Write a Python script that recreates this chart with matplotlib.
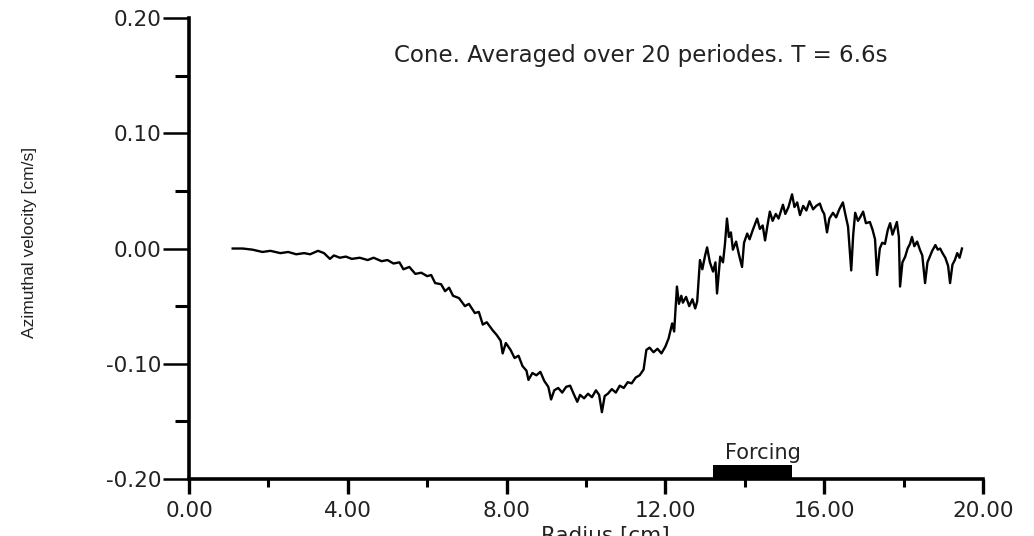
import numpy as np
import matplotlib
matplotlib.use("Agg")
import matplotlib.pyplot as plt
from matplotlib.patches import Rectangle
from matplotlib.ticker import MultipleLocator, FormatStrFormatter

plt.rcParams['axes.unicode_minus'] = False
plt.rcParams['font.family'] = ['DejaVu Sans']

# azimuthal velocity profile, cone, averaged over 20 periods
radius = [1.10, 1.35, 1.60, 1.85, 2.05, 2.30, 2.50, 2.70, 2.90, 3.05,
          3.25, 3.40, 3.55, 3.65, 3.80, 3.95, 4.10, 4.30, 4.50, 4.65,
          4.85, 5.00, 5.15, 5.30, 5.40, 5.55, 5.70, 5.85, 6.00, 6.10,
          6.20, 6.35, 6.45, 6.55, 6.65, 6.80, 6.95, 7.05, 7.20, 7.30,
          7.40, 7.50, 7.65, 7.75, 7.85, 7.90, 7.98, 8.10, 8.20, 8.30,
          8.40, 8.50, 8.55, 8.65, 8.75, 8.85, 8.95, 9.05, 9.12, 9.20,
          9.30, 9.40, 9.50, 9.60, 9.70, 9.78, 9.85, 9.95, 10.05, 10.15,
          10.25, 10.33, 10.40, 10.47, 10.55, 10.65, 10.75, 10.85, 10.95, 11.05,
          11.15, 11.25, 11.35, 11.45, 11.52, 11.60, 11.70, 11.80, 11.90, 12.00,
          12.08, 12.17, 12.22, 12.29, 12.34, 12.40, 12.44, 12.52, 12.60, 12.68,
          12.75, 12.80, 12.87, 12.93, 13.00, 13.05, 13.12, 13.20, 13.26, 13.30,
          13.38, 13.45, 13.50, 13.55, 13.60, 13.65, 13.70, 13.78, 13.85, 13.93,
          13.98, 14.06, 14.12, 14.20, 14.31, 14.38, 14.45, 14.51, 14.57, 14.63,
          14.70, 14.78, 14.85, 14.96, 15.02, 15.10, 15.19, 15.25, 15.32, 15.39,
          15.47, 15.55, 15.63, 15.72, 15.80, 15.89, 15.95, 16.00, 16.07, 16.13,
          16.22, 16.30, 16.38, 16.47, 16.53, 16.60, 16.68, 16.73, 16.78, 16.85,
          16.92, 16.98, 17.05, 17.15, 17.22, 17.28, 17.33, 17.40, 17.46, 17.53,
          17.60, 17.66, 17.72, 17.78, 17.83, 17.88, 17.91, 17.97, 18.04, 18.10,
          18.16, 18.21, 18.27, 18.34, 18.41, 18.47, 18.54, 18.60, 18.66, 18.72,
          18.80, 18.86, 18.92, 18.98, 19.05, 19.12, 19.17, 19.23, 19.29, 19.35,
          19.41, 19.47]
velocity = [0.000, 0.000, -0.001, -0.003, -0.002, -0.004, -0.003, -0.005, -0.004, -0.005,
            -0.002, -0.004, -0.009, -0.006, -0.008, -0.007, -0.009, -0.008, -0.010, -0.008,
            -0.011, -0.010, -0.013, -0.012, -0.018, -0.016, -0.022, -0.021, -0.024, -0.023,
            -0.030, -0.031, -0.037, -0.034, -0.041, -0.043, -0.050, -0.048, -0.056, -0.055,
            -0.066, -0.064, -0.071, -0.075, -0.080, -0.091, -0.082, -0.088, -0.095, -0.093,
            -0.102, -0.106, -0.114, -0.108, -0.110, -0.107, -0.115, -0.120, -0.131, -0.123,
            -0.121, -0.125, -0.120, -0.119, -0.127, -0.133, -0.127, -0.130, -0.126, -0.129,
            -0.123, -0.127, -0.142, -0.128, -0.126, -0.122, -0.125, -0.119, -0.121, -0.116,
            -0.117, -0.112, -0.110, -0.105, -0.088, -0.086, -0.090, -0.087, -0.091, -0.085,
            -0.078, -0.065, -0.072, -0.033, -0.048, -0.041, -0.047, -0.042, -0.050, -0.044,
            -0.052, -0.046, -0.010, -0.018, -0.006, 0.001, -0.012, -0.020, -0.012, -0.039,
            -0.007, -0.012, 0.004, 0.026, 0.010, 0.014, -0.001, 0.006, -0.005, -0.016,
            0.005, 0.013, 0.008, 0.016, 0.026, 0.017, 0.020, 0.007, 0.020, 0.032,
            0.024, 0.030, 0.026, 0.038, 0.030, 0.036, 0.047, 0.036, 0.040, 0.029,
            0.037, 0.033, 0.041, 0.034, 0.037, 0.039, 0.033, 0.030, 0.014, 0.026,
            0.031, 0.027, 0.034, 0.040, 0.030, 0.019, -0.019, 0.012, 0.031, 0.024,
            0.028, 0.032, 0.022, 0.023, 0.016, 0.008, -0.023, 0.000, 0.005, 0.004,
            0.016, 0.022, 0.012, 0.018, 0.023, 0.010, -0.033, -0.012, -0.007, 0.000,
            0.004, 0.010, 0.002, 0.006, -0.001, -0.006, -0.030, -0.012, -0.007, -0.002,
            0.003, -0.001, 0.000, -0.004, -0.008, -0.015, -0.030, -0.014, -0.010, -0.004,
            -0.008, 0.000]

# forcing region on the radius axis
forcing_start = 13.2
forcing_end = 15.2
forcing_height = 0.012

fig = plt.figure(figsize=(10.34, 5.36), dpi=100)
ax = fig.add_axes([0.1828, 0.1063, 0.7679, 0.8601])

ax.plot(radius, velocity, color='black', lw=1.7)

ax.add_patch(Rectangle((forcing_start, -0.20), forcing_end - forcing_start, forcing_height,
                       facecolor='black', edgecolor='none', clip_on=False))
ax.text((forcing_start + forcing_end) / 2 + 0.25, -0.20 + forcing_height + 0.002, 'Forcing',
        ha='center', va='bottom', fontsize=15, color='#222222')

ax.set_xlim(0, 20)
ax.set_ylim(-0.20, 0.20)
ax.xaxis.set_major_locator(MultipleLocator(4))
ax.xaxis.set_minor_locator(MultipleLocator(2))
ax.yaxis.set_major_locator(MultipleLocator(0.1))
ax.yaxis.set_minor_locator(MultipleLocator(0.05))
ax.xaxis.set_major_formatter(FormatStrFormatter('%.2f'))
ax.yaxis.set_major_formatter(FormatStrFormatter('%.2f'))

for side in ['top', 'right']:
    ax.spines[side].set_visible(False)
for side in ['left', 'bottom']:
    ax.spines[side].set_linewidth(2.6)

ax.tick_params(axis='y', which='major', length=19, width=1.8, pad=1, labelsize=15.5, labelcolor='#222222')
ax.tick_params(axis='y', which='minor', length=10, width=2.2)
ax.tick_params(axis='x', which='major', length=11, width=2.4, pad=5, labelsize=15.5, labelcolor='#222222')
ax.tick_params(axis='x', which='minor', length=6, width=2.2)

fig.text(0.62, 0.897, 'Cone. Averaged over 20 periodes. T = 6.6s',
         ha='center', va='center', fontsize=16.5, color='#222222')
fig.text(0.029, 0.547, 'Azimuthal velocity [cm/s]', rotation=90, ha='center', va='center',
         fontsize=12.5, family=['Liberation Sans', 'DejaVu Sans'], color='#222222')
fig.text(0.585, 0.019, 'Radius [cm]', ha='center', va='top', fontsize=15.5, color='#222222')

fig.savefig('out.png', dpi=100)
